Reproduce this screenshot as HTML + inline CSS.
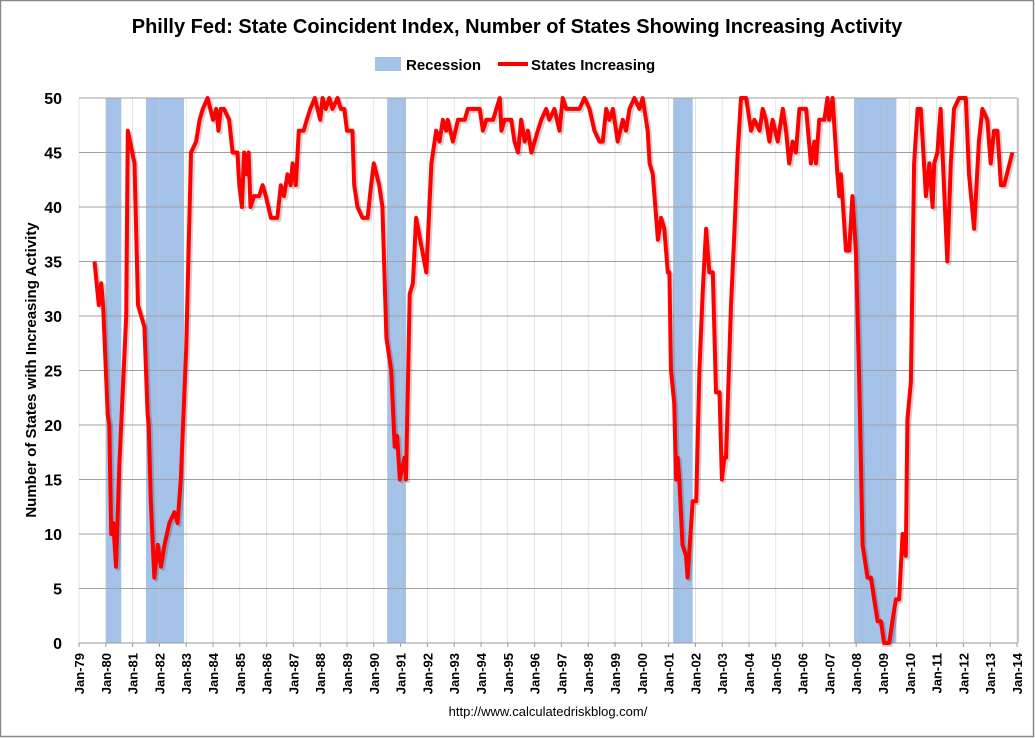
<!DOCTYPE html>
<html><head><meta charset="utf-8">
<style>
html,body{margin:0;padding:0;background:#fff;}
#wrap{position:relative;width:1035px;height:738px;overflow:hidden;}
svg text{font-family:"Liberation Sans",Arial,sans-serif;}
</style></head>
<body>
<div id="wrap">
<svg id="chart" width="1035" height="738" viewBox="0 0 1035 738">
  <rect x="0.5" y="0.5" width="1033" height="736" fill="#fff" stroke="#888" stroke-width="1.5"/>
  <text x="517" y="33" text-anchor="middle" font-size="20" font-weight="bold" fill="#000">Philly Fed: State Coincident Index, Number of States Showing Increasing Activity</text>
  <g>
    <rect x="375" y="57" width="26" height="14" fill="#a4c2e8"/>
    <text x="406" y="70" font-size="15" font-weight="bold" fill="#000">Recession</text>
    <line x1="498" y1="64" x2="528" y2="64" stroke="#f00" stroke-width="4"/>
    <text x="531" y="70" font-size="15" font-weight="bold" fill="#000">States Increasing</text>
  </g>
  <g id="recG"></g>
  <g id="gridG"></g>
  <g id="axisG"></g>
  <g id="lineG"></g>
  <text transform="translate(36,370) rotate(-90)" text-anchor="middle" font-size="15" font-weight="bold" fill="#000">Number of States with Increasing Activity</text>
  <text x="548" y="716" text-anchor="middle" font-size="13" font-family="Liberation Serif" fill="#000">http://www.calculatedriskblog.com/</text>
</svg>
</div>
<script>
// data
const yTicks = [0,5,10,15,20,25,30,35,40,45,50];
const xTickYears = [1979,1980,1981,1982,1983,1984,1985,1986,1987,1988,1989,1990,1991,1992,1993,1994,1995,1996,1997,1998,1999,2000,2001,2002,2003,2004,2005,2006,2007,2008,2009,2010,2011,2012,2013,2014];
const recStarts = [1980.0, 1981.5, 1990.5, 2001.17, 2007.92];
const recEnds = [1980.58, 1982.92, 1991.2, 2001.9, 2009.5];
const dates = [1979.58,1979.74,1979.83,1979.9,1980.07,1980.13,1980.2,1980.28,1980.38,1980.5,1980.76,1980.82,1981.07,1981.2,1981.44,1981.56,1981.6,1981.68,1981.81,1981.94,1982.06,1982.19,1982.37,1982.56,1982.68,1982.8,1983.0,1983.18,1983.37,1983.5,1983.62,1983.8,1984.0,1984.12,1984.2,1984.29,1984.41,1984.6,1984.73,1984.91,1984.98,1985.08,1985.16,1985.25,1985.33,1985.4,1985.53,1985.72,1985.85,1985.97,1986.16,1986.4,1986.53,1986.65,1986.78,1986.9,1986.97,1987.09,1987.2,1987.38,1987.5,1987.63,1987.8,1988.0,1988.09,1988.21,1988.34,1988.46,1988.65,1988.77,1988.9,1989.0,1989.2,1989.27,1989.39,1989.58,1989.77,1989.9,1990.0,1990.2,1990.32,1990.47,1990.65,1990.78,1990.87,1990.97,1991.15,1991.2,1991.34,1991.46,1991.58,1991.96,1992.15,1992.33,1992.45,1992.58,1992.7,1992.76,1992.95,1993.14,1993.39,1993.51,1993.95,1994.07,1994.2,1994.45,1994.57,1994.7,1994.76,1994.88,1995.13,1995.25,1995.38,1995.5,1995.63,1995.75,1995.88,1996.0,1996.12,1996.25,1996.43,1996.55,1996.74,1996.93,1997.05,1997.18,1997.67,1997.86,1998.05,1998.23,1998.42,1998.54,1998.67,1998.79,1998.92,1999.1,1999.29,1999.41,1999.54,1999.72,1999.91,2000.03,2000.22,2000.29,2000.41,2000.6,2000.72,2000.84,2000.97,2001.03,2001.09,2001.21,2001.28,2001.34,2001.4,2001.52,2001.65,2001.71,2001.9,2002.03,2002.15,2002.27,2002.4,2002.52,2002.65,2002.77,2002.9,2002.99,2003.08,2003.14,2003.33,2003.45,2003.58,2003.7,2003.89,2004.08,2004.2,2004.39,2004.51,2004.63,2004.76,2004.88,2005.07,2005.26,2005.38,2005.5,2005.63,2005.75,2005.88,2006.13,2006.31,2006.44,2006.5,2006.62,2006.81,2006.93,2006.99,2007.12,2007.3,2007.37,2007.43,2007.62,2007.74,2007.86,2007.99,2008.11,2008.24,2008.42,2008.55,2008.67,2008.8,2008.92,2009.04,2009.23,2009.35,2009.48,2009.6,2009.73,2009.85,2009.91,2010.04,2010.16,2010.29,2010.41,2010.6,2010.73,2010.85,2010.91,2011.03,2011.15,2011.4,2011.53,2011.65,2011.84,2012.09,2012.21,2012.4,2012.58,2012.71,2012.89,2013.02,2013.14,2013.27,2013.4,2013.52,2013.83];
const values = [35,31,33,31,21,20,10,11,7,16,30,47,44,31,29,21,20,13,6,9,7,9,11,12,11,15,27,45,46,48,49,50,48,49,47,49,49,48,45,45,42,40,45,43,45,40,41,41,42,41,39,39,42,41,43,42,44,42,47,47,48,49,50,48,50,49,50,49,50,49,49,47,47,42,40,39,39,42,44,42,40,28,25,18,19,15,17,15,32,33,39,34,44,47,46,48,47,48,46,48,48,49,49,47,48,48,49,50,47,48,48,46,45,48,46,47,45,46,47,48,49,48,49,47,50,49,49,50,49,47,46,46,49,48,49,46,48,47,49,50,49,50,47,44,43,37,39,38,34,34,25,22,15,17,15,9,8,6,13,13,25,32,38,34,34,23,23,15,17,17,31,37.5,45,50,50,47,48,47,49,48,46,48,46,49,47,44,46,45,49,49,44,46,44,48,48,50,48,50,43,41,43,36,36,41,36,24.5,9,6,6,4,2,2,0,0,2,4,4,10,8,20.5,24,44,49,49,41,44,40,44,45,49,35,44,49,50,50,43,38,46,49,48,44,47,47,42,42,45];

const NS='http://www.w3.org/2000/svg';
const X0=79, X1=1017, Y0=643, Y1=98, YR0=1979, YR1=2014;
function xs(yr){return X0+(yr-YR0)/(YR1-YR0)*(X1-X0);}
function ys(v){return Y0-(v/50)*(Y0-Y1);}
function mk(tag,attrs,parent){const e=document.createElementNS(NS,tag);for(const k in attrs)e.setAttribute(k,attrs[k]);parent.appendChild(e);return e;}

const recG=document.getElementById('recG');
recStarts.forEach((s,i)=>{
  const r=mk('rect',{x:xs(s),y:Y1,width:xs(recEnds[i])-xs(s),height:Y0-Y1,fill:'#a4c2e8'},recG);
  
  
});

const gridG=document.getElementById('gridG');
xTickYears.forEach(yr=>{
  const l=mk('line',{x1:xs(yr),x2:xs(yr),y1:Y1,y2:Y0,stroke:'#c8c8c8','stroke-width':0.7,'stroke-opacity':0.7},gridG);
  
  
});
yTicks.forEach(v=>{
  const l=mk('line',{x1:X0,x2:X1,y1:ys(v),y2:ys(v),stroke:'#a0a0a0','stroke-width':1},gridG);
  
  
});

const axisG=document.getElementById('axisG');
const ax=mk('line',{x1:X0,x2:X1,y1:Y0,y2:Y0,stroke:'#999','stroke-width':1},axisG);


const rb=mk('line',{x1:X1+1,x2:X1+1,y1:Y1,y2:Y0,stroke:'#999','stroke-width':1},axisG);


yTicks.forEach(v=>{
  const t=mk('text',{x:62,y:ys(v)+6,'text-anchor':'end','font-size':16,'font-weight':'bold',fill:'#000'},axisG);
  t.textContent=String(v);
  
  
});
xTickYears.forEach(yr=>{
  const tk=mk('line',{x1:xs(yr),x2:xs(yr),y1:Y0,y2:Y0+4,stroke:'#999','stroke-width':1},axisG);
  
  
  const t=mk('text',{transform:`translate(${xs(yr)+5},${Y0+10}) rotate(-90)`,'text-anchor':'end','font-size':13,'font-weight':'bold',fill:'#000'},axisG);
  t.textContent='Jan-'+String(yr).slice(2);
  
  
});

const lineG=document.getElementById('lineG');
const pts=dates.map((d,i)=>xs(d).toFixed(1)+','+ys(values[i]).toFixed(1)).join(' ');
const sh=mk('polyline',{points:pts,fill:'none',stroke:'#000','stroke-opacity':0.18,'stroke-width':4,'stroke-linejoin':'round',transform:'translate(2,2)'},lineG);


const pl=mk('polyline',{points:pts,fill:'none',stroke:'#ff0000','stroke-width':4,'stroke-linejoin':'round'},lineG);


</script>
</body></html>
